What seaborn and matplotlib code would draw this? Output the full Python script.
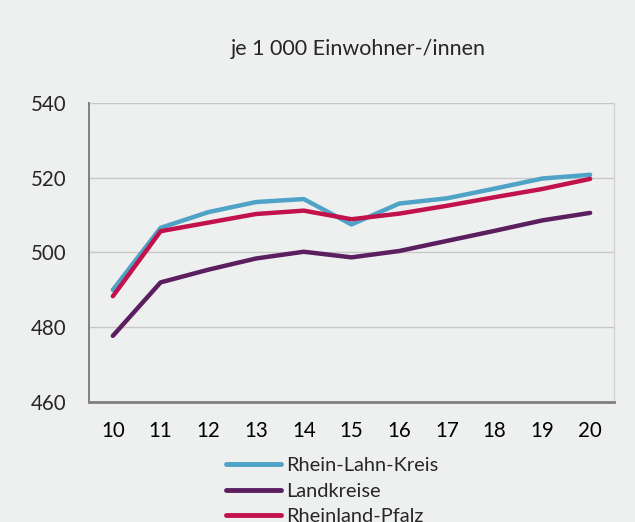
import pandas as pd
import seaborn as sns
import matplotlib.pyplot as plt
import numpy as np

years = [10, 11, 12, 13, 14, 15, 16, 17, 18, 19, 20]
rhein_lahn = [490.0, 506.6, 510.8, 513.5, 514.3, 507.5, 513.1, 514.5, 517.1, 519.8, 520.8]
landkreise = [477.7, 492.0, 495.4, 498.4, 500.2, 498.7, 500.4, 503.1, 505.8, 508.6, 510.6]
rlp = [488.3, 505.7, 508.0, 510.3, 511.2, 508.9, 510.4, 512.5, 514.8, 517.0, 519.7]
series = ["Rhein-Lahn-Kreis", "Landkreise", "Rheinland-Pfalz"]
colors = ["#4fa3c7", "#5b1f60", "#c2124b"]

df = pd.DataFrame({
    "Jahr": years * 3,
    "Wert": rhein_lahn + landkreise + rlp,
    "Gebiet": np.repeat(series, len(years)),
})

sns.set_theme(style="white")
plt.rcParams["font.family"] = ["Lato", "DejaVu Sans"]
bg = "#eef0ef"

fig = plt.figure(figsize=(6.35, 5.22), dpi=100, facecolor=bg)
ax = fig.add_axes([89 / 635, 1 - 402 / 522, 525 / 635, 299 / 522])
ax.set_facecolor(bg)

sns.lineplot(data=df, x="Jahr", y="Wert", hue="Gebiet", hue_order=series,
             palette=colors, linewidth=3.2, ax=ax, legend=True)

ax.set_xlim(9.5, 20.5)
ax.set_ylim(460, 540)
ax.set_yticks([460, 480, 500, 520, 540])
ax.set_xticks(years)
ax.set_xticks(np.arange(9.5, 21, 1), minor=True)
ax.tick_params(axis="x", which="major", length=0, pad=14, labelsize=14.8, colors="black")
ax.tick_params(axis="x", which="minor", length=5, width=1.3, color="#808080", direction="out")
ax.tick_params(axis="y", length=6, width=1.3, color="#808080", direction="out", pad=10, labelsize=14.8)
ax.grid(axis="y", color="#c8c8c8", linewidth=1)
ax.set_axisbelow(True)
ax.set_xlabel("")
ax.set_ylabel("")

ax.spines["top"].set_visible(False)
ax.spines["right"].set_color("#d4d4d4")
ax.spines["right"].set_linewidth(1)
ax.spines["left"].set_color("#808080")
ax.spines["left"].set_linewidth(1.4)
ax.spines["bottom"].set_color("#808080")
ax.spines["bottom"].set_linewidth(2)

fig.text(358 / 635, 1 - 49 / 522, "je 1 000 Einwohner-/innen", ha="center", va="center", fontsize=15.5)

handles, labels = ax.get_legend_handles_labels()
ax.get_legend().remove()
leg = fig.legend(handles, labels, loc="upper left", bbox_to_anchor=(226 / 635, 1 - 457 / 522),
                 frameon=False, fontsize=14.4, handlelength=2.75, handletextpad=0.27,
                 labelspacing=0.43, borderpad=0, borderaxespad=0)
for line in leg.get_lines():
    line.set_linewidth(3.5)

fig.savefig("out.png", dpi=100, facecolor=bg)
